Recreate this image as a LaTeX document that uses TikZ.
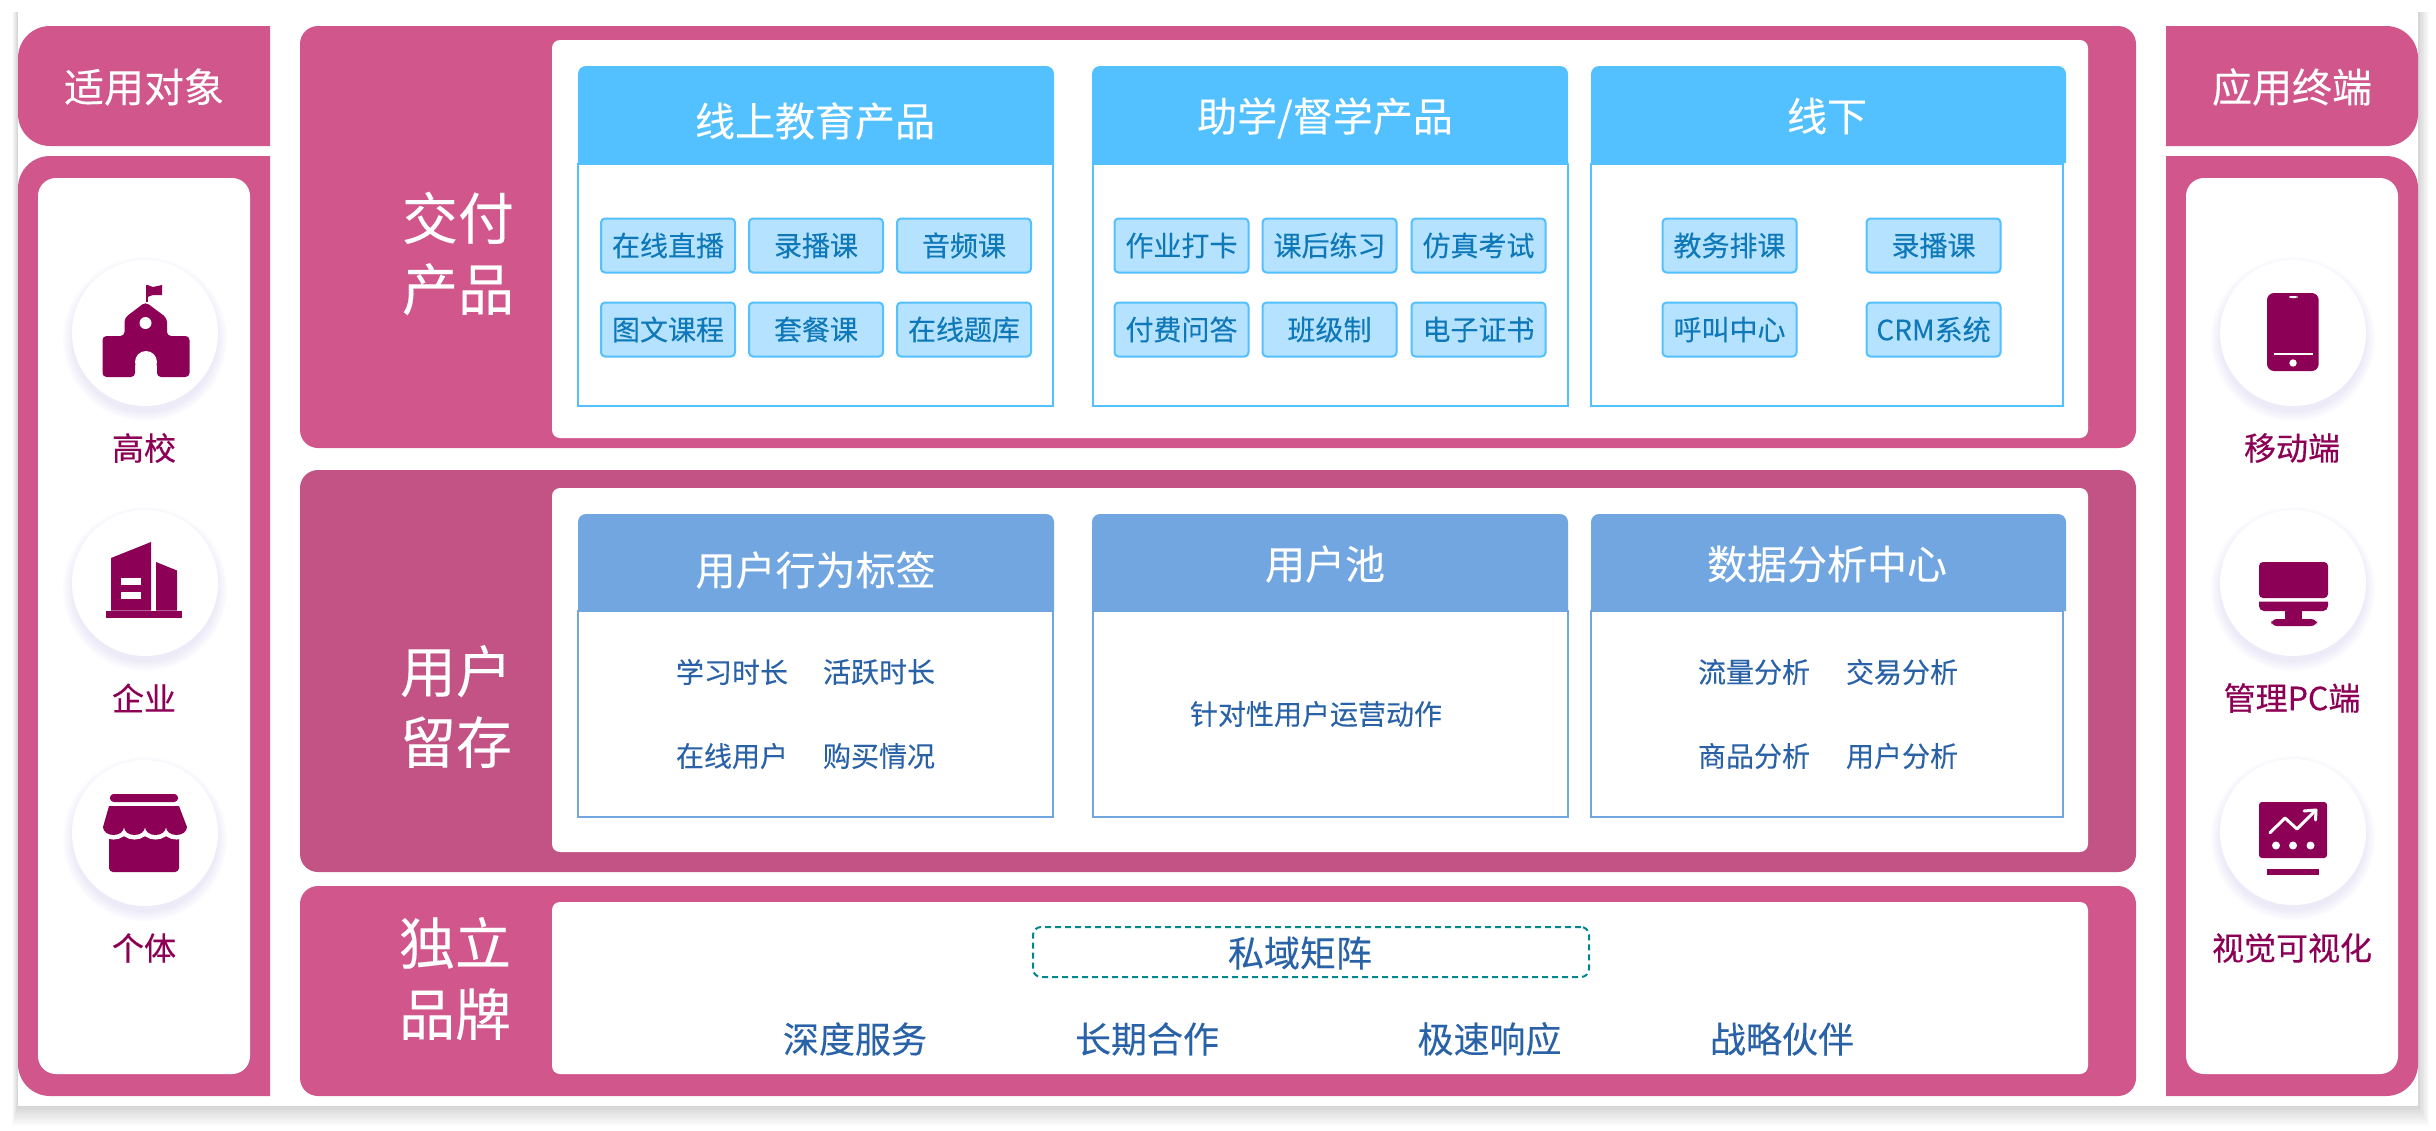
\documentclass[tikz,border=0pt]{standalone}
\usepackage{fontspec}
\usepackage{xcolor}
\setmainfont{Noto Sans CJK SC}
\newfontfamily\midfont[FakeBold=0.4]{Noto Sans CJK SC}
\newfontfamily\softfont[FakeBold=0.15]{Noto Sans CJK SC}
\usetikzlibrary{positioning}
\definecolor{bandpink}{HTML}{D0568B}
\definecolor{bandrose}{HTML}{C35384}
\definecolor{plumdark}{HTML}{8C0056}
\definecolor{skyhead}{HTML}{53C0FF}
\definecolor{skychip}{HTML}{B5E3FF}
\definecolor{chiptext}{HTML}{0F78B8}
\definecolor{steelhead}{HTML}{72A6E0}
\definecolor{steeltext}{HTML}{2A62A8}
\definecolor{tealdash}{HTML}{00868E}
\definecolor{glowtint}{HTML}{B9AEEE}
\tikzstyle{sidehead} = [text=white, font=\softfont\fontsize{20}{20}\selectfont]
\tikzstyle{bandtext} = [text=white, align=center, font=\softfont\fontsize{28}{35.5}\selectfont]
\tikzstyle{disc} = [circle, minimum size=73pt, inner sep=0pt, fill=white]
\tikzstyle{tag} = [text=plumdark, font=\midfont\fontsize{16}{16}\selectfont]
\tikzstyle{skybody} = [rectangle, minimum height=121pt, minimum width=237.5pt, draw=skyhead, line width=1pt, fill=white]
\tikzstyle{steelbody} = [rectangle, minimum height=103pt, minimum width=237.5pt, draw=steelhead, line width=1pt, fill=white]
\tikzstyle{title} = [text=white, font=\softfont\fontsize{20}{20}\selectfont]
\tikzstyle{chip} = [rectangle, rounded corners=2pt, minimum width=67pt, minimum height=27pt, inner sep=0pt, draw=skyhead, line width=1pt, fill=skychip, text=chiptext, font=\softfont\fontsize{14}{14}\selectfont]
\tikzstyle{item} = [text=steeltext, font=\softfont\fontsize{14}{14}\selectfont]
\tikzstyle{brand} = [text=steeltext, font=\softfont\fontsize{18}{18}\selectfont]
\tikzstyle{icon} = [fill=plumdark]
\newcommand{\discglow}[2]{
    \foreach \r in {73,74.5,...,83}
        \fill [glowtint, opacity=0.03] (#1,#2+6) circle (\r);
}
\newcommand{\headband}[5]{
    \fill [#1] (#2,#5) [rounded corners=4pt] -- (#2,#3) -- (#4,#3) [sharp corners] -- (#4,#5) -- cycle;
}

\begin{document}
\begin{tikzpicture}[x=0.5pt, y=-0.5pt]
    \useasboundingbox (0,0) rectangle (2436,1130);

    \foreach \s in {0,...,14}
        \fill [black, opacity=0.011] (18-\s*0.4,12) rectangle (2418+\s*0.8,1106+\s*1.4);
    \fill [white] (18,12) rectangle (2418,1106);

    \fill [bandpink] (270,26) [rounded corners=16pt] -- (18,26) -- (18,146) [sharp corners] -- (270,146) -- cycle;
    \fill [bandpink] (270,156) [rounded corners=16pt] -- (18,156) -- (18,1096) [sharp corners] -- (270,1096) -- cycle;
    \fill [white, rounded corners=9pt] (38,178) rectangle (250,1074);
    \fill [bandpink] (2166,26) [rounded corners=16pt] -- (2418,26) -- (2418,146) [sharp corners] -- (2166,146) -- cycle;
    \fill [bandpink] (2166,156) [rounded corners=16pt] -- (2418,156) -- (2418,1096) [sharp corners] -- (2166,1096) -- cycle;
    \fill [white, rounded corners=9pt] (2186,178) rectangle (2398,1074);

    \node (audience) [sidehead] at (144,87) {适用对象};
    \node (terminal) [sidehead] at (2292,87) {应用终端};

    \discglow{145}{333}
    \discglow{145}{583}
    \discglow{145}{833}
    \discglow{2293}{333}
    \discglow{2293}{583}
    \discglow{2293}{832}
    \node (school) [disc] at (145,333) {};
    \node (firm) [disc] at (145,583) {};
    \node (person) [disc] at (145,833) {};
    \node (phone) [disc] at (2293,333) {};
    \node (screen) [disc] at (2293,583) {};
    \node (chart) [disc] at (2293,832) {};
    \node (schooltag) [tag] at (144,448) {高校};
    \node (firmtag) [tag] at (144,698) {企业};
    \node (persontag) [tag] at (144,948) {个体};
    \node (phonetag) [tag] at (2292,448) {移动端};
    \node (screentag) [tag] at (2292,698) {管理PC端};
    \node (charttag) [tag] at (2292,948) {视觉可视化};

    \begin{scope}[shift={(145,333)}]
        \fill [icon, rounded corners=2pt] (-42.5,3) -- (-20.5,3) -- (-20.5,-15) -- (0.5,-31) -- (22,-15) -- (22,3) -- (44.5,3) -- (44.5,44) -- (12,44) -- (12,29) -- (-10,29) -- (-10,44) -- (-42.5,44) -- cycle;
        \fill [white] (1,29) circle (11);
        \fill [white] (0.5,-10) circle (6);
        \fill [icon] (0.5,-48) rectangle (2.5,-31);
        \fill [icon] (2.5,-48) -- (8,-46) -- (17,-48) -- (17,-38) -- (8,-38) -- (2.5,-36) -- cycle;
    \end{scope}
    \begin{scope}[shift={(145,583)}]
        \fill [icon] (-39,27.5) rectangle (37,35);
        \fill [icon] (-34,27.5) -- (-34,-25) -- (6,-41) -- (6,27.5) -- cycle;
        \fill [icon] (11,27.5) -- (11,-21) -- (32,-12.5) -- (32,27.5) -- cycle;
        \fill [white] (-24,-5) rectangle (-4.5,2);
        \fill [white] (-24,9) rectangle (-4.5,16);
    \end{scope}
    \begin{scope}[shift={(145,833)}]
        \fill [icon, rounded corners=2pt] (-35,-39) rectangle (33,-31);
        \fill [icon, rounded corners=2pt] (-36,-2) rectangle (34,39);
        \fill [icon, preaction={draw=white, line width=4.5pt}] (-36,-27) -- (34,-27) -- (42,-6) arc (0:180:10.5 and 8) arc (0:180:10.5 and 8) arc (0:180:10.5 and 8) arc (0:180:10.5 and 8) -- cycle;
        \fill [icon, rounded corners=2pt] (-35,-39) rectangle (33,-31);
    \end{scope}
    \begin{scope}[shift={(2293,333)}]
        \fill [icon, rounded corners=3.5pt] (-26,-40) rectangle (25.7,38);
        \fill [white, rounded corners=1pt] (-4,-37) rectangle (4.5,-35);
        \fill [white] (-19,20) rectangle (19.7,21.5);
        \fill [white] (0,30) circle (3.7);
    \end{scope}
    \begin{scope}[shift={(2293,583)}]
        \fill [icon, rounded corners=2pt] (-34,-21) -- (35,-21) -- (35,15) -- (-34,15) -- cycle;
        \fill [icon] (-34,18.5) -- (35,18.5) [rounded corners=2.5pt] -- (35,28) -- (-34,28) [sharp corners] -- cycle;
        \fill [icon] (-8,28) rectangle (8.7,37);
        \fill [icon, rounded corners=3pt] (-22,36) rectangle (24,43);
    \end{scope}
    \begin{scope}[shift={(2293,832)}]
        \fill [icon, rounded corners=1.5pt] (-34,-30) rectangle (34,26);
        \fill [icon] (-26,37) rectangle (26,43);
        \draw [white, line width=1.5pt, line cap=round, line join=round] (-23,0.7) -- (-8,-14) -- (4,-3) -- (22,-21);
        \draw [white, line width=1.5pt, line cap=round, line join=round] (11,-21) -- (23,-22) -- (22.5,-12);
        \fill [white] (-17,13.5) circle (4);
        \fill [white] (0,13.5) circle (4);
        \fill [white] (17.5,13.5) circle (4);
    \end{scope}

    \fill [bandpink, rounded corners=9pt] (300,26) rectangle (2136,448);
    \fill [bandrose, rounded corners=9pt] (300,470) rectangle (2136,872);
    \fill [bandpink, rounded corners=9pt] (300,886) rectangle (2136,1096);
    \fill [white, rounded corners=4pt] (552,40) rectangle (2088,438);
    \fill [white, rounded corners=4pt] (552,488) rectangle (2088,852);
    \fill [white, rounded corners=4pt] (552,902) rectangle (2088,1074);
    \node (delivery) [bandtext] at (458,253.5) {交付\\产品};
    \node (retention) [bandtext] at (456,706.5) {用户\\留存};
    \node (branding) [bandtext] at (455,978.5) {独立\\品牌};

    \node (onlinebody) [skybody] at (815.8,285) {};
    \headband{skyhead}{578}{66}{1054}{163}
    \node (onlinetitle) [title] at (815,121) {线上教育产品};
    \node (helpbody) [skybody] at (1330,285) {};
    \headband{skyhead}{1092}{66}{1568}{163}
    \node (helptitle) [title] at (1325,118) {助学/督学产品};
    \node (offbody) [skybody, minimum width=236pt] at (1827,285) {};
    \headband{skyhead}{1591}{66}{2066}{163}
    \node (offtitle) [title] at (1827,116) {线下};

    \node (live) [chip] at (668,245.5) {在线直播};
    \node (record) [chip] at (816,245.5) {录播课};
    \node (audio) [chip] at (964,245.5) {音频课};
    \node (graphic) [chip] at (668,329.5) {图文课程};
    \node (bundle) [chip] at (816,329.5) {套餐课};
    \node (bank) [chip] at (964,329.5) {在线题库};
    \node (homework) [chip] at (1181.5,245.5) {作业打卡};
    \node (practice) [chip] at (1329.5,245.5) {课后练习};
    \node (mock) [chip] at (1478.5,245.5) {仿真考试};
    \node (answer) [chip] at (1181.5,329.5) {付费问答};
    \node (classes) [chip] at (1329.5,329.5) {班级制};
    \node (certificate) [chip] at (1478.5,329.5) {电子证书};
    \node (academic) [chip] at (1729.5,245.5) {教务排课};
    \node (replay) [chip] at (1933.5,245.5) {录播课};
    \node (callcenter) [chip] at (1729.5,329.5) {呼叫中心};
    \node (crm) [chip] at (1933.5,329.5) {CRM系统};

    \node (behaviorbody) [steelbody] at (815.8,714) {};
    \headband{steelhead}{578}{514}{1054}{611}
    \node (behaviortitle) [title] at (815.6,570) {用户行为标签};
    \node (poolbody) [steelbody] at (1330,714) {};
    \headband{steelhead}{1092}{514}{1568}{611}
    \node (pooltitle) [title] at (1325,564) {用户池};
    \node (databody) [steelbody, minimum width=236pt] at (1827,714) {};
    \headband{steelhead}{1591}{514}{2066}{611}
    \node (datatitle) [title] at (1827,564) {数据分析中心};

    \node (studytime) [item] at (732,672) {学习时长};
    \node (activetime) [item] at (879,672) {活跃时长};
    \node (onlineuser) [item] at (732,756) {在线用户};
    \node (purchase) [item] at (879,756) {购买情况};
    \node (targeted) [item] at (1316,714) {针对性用户运营动作};
    \node (traffic) [item] at (1754,672) {流量分析};
    \node (trade) [item] at (1902,672) {交易分析};
    \node (goods) [item] at (1754,756) {商品分析};
    \node (users) [item] at (1902,756) {用户分析};

    \node (matrix) [rectangle, rounded corners=4pt, minimum width=278pt, minimum height=25pt, inner sep=0pt, draw=tealdash, line width=1pt, dash pattern=on 3pt off 2pt] at (1311,952) {};
    \node (matrixtext) [brand] at (1300,953) {私域矩阵};
    \node (service) [brand] at (855,1039) {深度服务};
    \node (partner) [brand] at (1147,1039) {长期合作};
    \node (response) [brand] at (1489.5,1039) {极速响应};
    \node (alliance) [brand] at (1782,1039) {战略伙伴};
\end{tikzpicture}
\end{document}
